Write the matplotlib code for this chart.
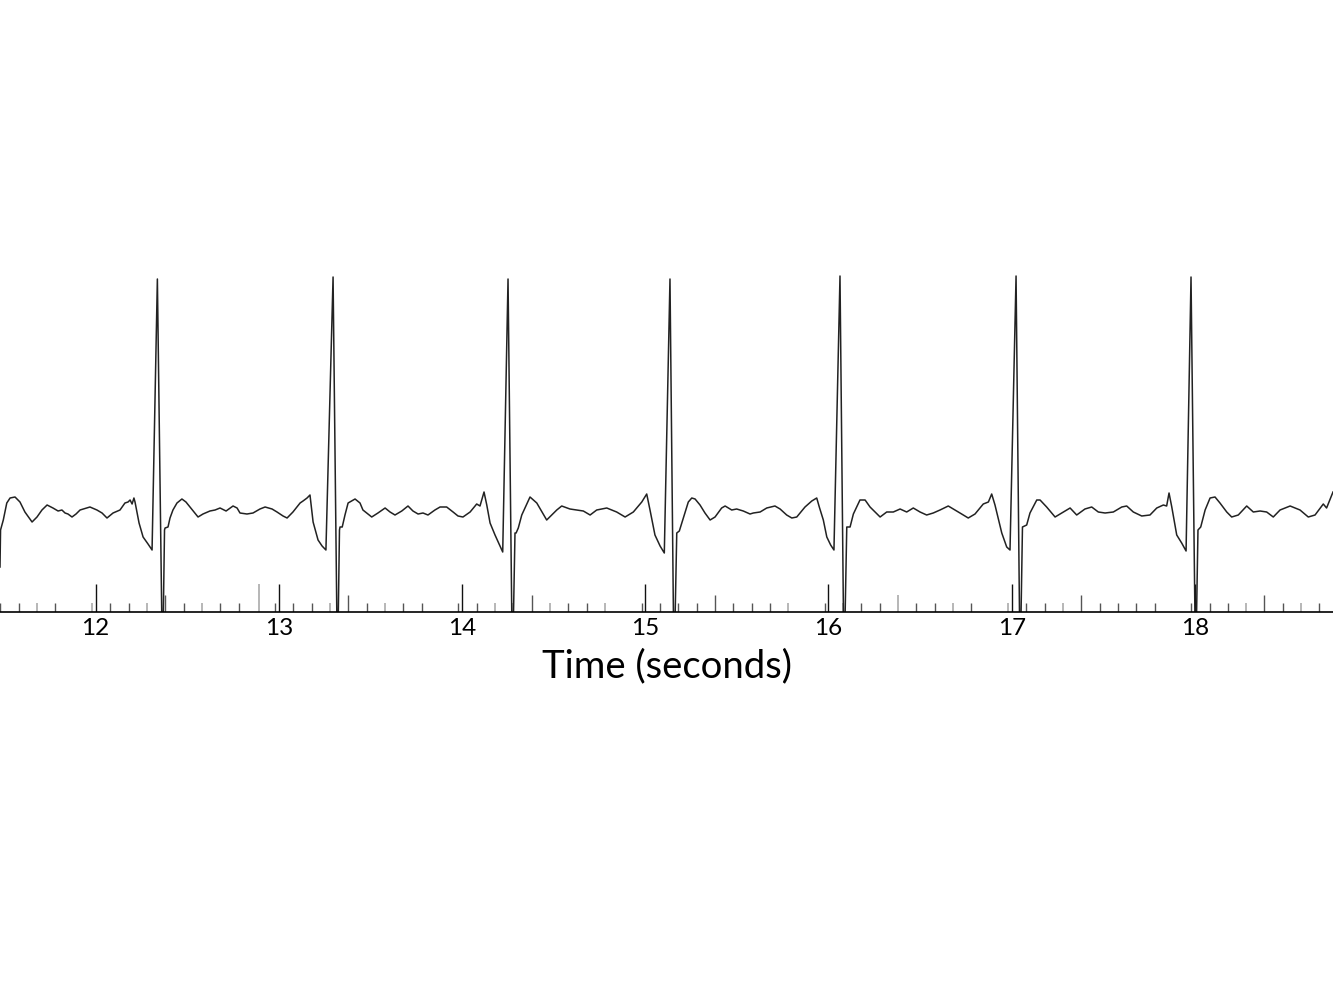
import matplotlib
matplotlib.use("Agg")
from matplotlib import pyplot as plt

# ECG trace (time in s, amplitude in mV)
ecg_t = [11.478, 11.481, 11.496, 11.515, 11.533, 11.560, 11.587, 11.614, 11.653, 11.680,
         11.707, 11.735, 11.767, 11.795, 11.816, 11.833, 11.849, 11.871, 11.893, 11.915,
         11.969, 12.007, 12.035, 12.062, 12.095, 12.133, 12.160, 12.177, 12.188, 12.199,
         12.209, 12.215, 12.237, 12.259, 12.286, 12.308, 12.337, 12.365, 12.376, 12.379,
         12.395, 12.406, 12.422, 12.444, 12.471, 12.493, 12.515, 12.542, 12.559, 12.586,
         12.624, 12.652, 12.679, 12.712, 12.750, 12.772, 12.788, 12.826, 12.859, 12.897,
         12.925, 12.963, 12.990, 13.023, 13.045, 13.077, 13.116, 13.132, 13.154, 13.170,
         13.187, 13.214, 13.236, 13.257, 13.296, 13.320, 13.331, 13.334, 13.346, 13.361,
         13.378, 13.416, 13.443, 13.459, 13.507, 13.541, 13.580, 13.607, 13.634, 13.671,
         13.705, 13.732, 13.760, 13.787, 13.814, 13.852, 13.880, 13.916, 13.951, 13.978,
         14.005, 14.044, 14.080, 14.098, 14.120, 14.135, 14.153, 14.180, 14.207, 14.222,
         14.251, 14.275, 14.289, 14.295, 14.307, 14.326, 14.371, 14.408, 14.462, 14.517,
         14.544, 14.589, 14.626, 14.662, 14.680, 14.699, 14.735, 14.790, 14.844, 14.890,
         14.935, 14.981, 15.008, 15.026, 15.053, 15.081, 15.104, 15.135, 15.157, 15.172,
         15.186, 15.208, 15.235, 15.254, 15.272, 15.299, 15.326, 15.354, 15.381, 15.417,
         15.436, 15.472, 15.499, 15.535, 15.572, 15.590, 15.627, 15.663, 15.708, 15.736,
         15.772, 15.800, 15.827, 15.872, 15.909, 15.936, 15.950, 15.972, 15.991, 16.012,
         16.030, 16.063, 16.085, 16.100, 16.118, 16.136, 16.172, 16.200, 16.227, 16.282,
         16.318, 16.354, 16.391, 16.427, 16.463, 16.500, 16.536, 16.572, 16.609, 16.654,
         16.691, 16.727, 16.763, 16.800, 16.845, 16.873, 16.891, 16.909, 16.946, 16.973,
         16.991, 17.024, 17.046, 17.059, 17.082, 17.100, 17.137, 17.155, 17.191, 17.237,
         17.273, 17.319, 17.355, 17.400, 17.437, 17.473, 17.510, 17.555, 17.601, 17.628,
         17.664, 17.710, 17.755, 17.792, 17.828, 17.846, 17.859, 17.874, 17.901, 17.928,
         17.952, 17.979, 18.004, 18.017, 18.032, 18.056, 18.083, 18.110, 18.137, 18.174,
         18.201, 18.237, 18.283, 18.319, 18.356, 18.392, 18.428, 18.465, 18.520, 18.574,
         18.619, 18.656, 18.701, 18.719, 18.747, 18.754]
ecg_mv = [-0.55, -0.18, -0.08, 0.09, 0.14, 0.15, 0.10, 0.00, -0.10, -0.05,
          0.02, 0.07, 0.04, 0.01, 0.02, -0.01, -0.02, -0.05, -0.02, 0.02,
          0.05, 0.02, -0.01, -0.06, -0.01, 0.02, 0.09, 0.10, 0.12, 0.08,
          0.14, 0.10, -0.11, -0.25, -0.32, -0.38, 2.33, -1.60, -0.18, -0.16,
          -0.15, -0.06, 0.02, 0.09, 0.13, 0.10, 0.05, -0.01, -0.05, -0.02,
          0.01, 0.02, 0.04, 0.01, 0.06, 0.04, -0.01, -0.02, -0.01, 0.03,
          0.05, 0.03, 0.00, -0.04, -0.06, 0.00, 0.09, 0.11, 0.14, 0.17,
          -0.10, -0.28, -0.34, -0.38, 2.35, -1.60, -0.18, -0.15, -0.15, -0.03,
          0.09, 0.13, 0.09, 0.02, -0.05, -0.01, 0.04, 0.00, -0.03, 0.01,
          0.06, 0.01, -0.02, -0.01, -0.03, 0.02, 0.05, 0.05, 0.00, -0.04,
          -0.05, 0.00, 0.08, 0.06, 0.20, 0.07, -0.11, -0.23, -0.34, -0.40,
          2.33, -1.60, -0.21, -0.21, -0.16, -0.03, 0.15, 0.09, -0.08, 0.02,
          0.06, 0.03, 0.02, 0.01, -0.01, -0.03, 0.02, 0.04, 0.00, -0.05,
          0.00, 0.10, 0.18, 0.02, -0.23, -0.34, -0.41, 2.33, -1.60, -0.21,
          -0.19, -0.06, 0.10, 0.14, 0.13, 0.07, -0.01, -0.08, -0.05, 0.04,
          0.06, 0.02, 0.03, 0.01, -0.02, -0.01, 0.00, 0.04, 0.06, 0.03,
          -0.03, -0.06, -0.05, 0.05, 0.11, 0.14, 0.05, -0.08, -0.25, -0.33,
          -0.38, 2.36, -1.60, -0.15, -0.15, -0.02, 0.12, 0.12, 0.05, -0.05,
          0.00, 0.00, 0.03, 0.00, 0.04, 0.00, -0.03, -0.01, 0.02, 0.06,
          0.02, -0.02, -0.06, -0.02, 0.08, 0.10, 0.18, 0.07, -0.21, -0.35,
          -0.38, 2.36, -1.60, -0.15, -0.13, -0.01, 0.12, 0.12, 0.05, -0.05,
          -0.01, 0.04, -0.03, 0.03, 0.05, 0.00, -0.01, 0.00, 0.05, 0.06,
          0.00, -0.04, -0.03, 0.04, 0.07, 0.06, 0.19, 0.05, -0.23, -0.31,
          -0.39, 2.35, -1.60, -0.18, -0.15, 0.02, 0.14, 0.15, 0.09, 0.00,
          -0.05, -0.03, 0.06, 0.00, 0.01, 0.00, -0.05, 0.02, 0.06, 0.02,
          -0.05, -0.03, 0.08, 0.04, 0.17, 0.20]

# event marks along the time axis
short_dark = [11.48, 11.58, 11.78, 12.08, 12.18, 12.48, 12.68, 12.78, 12.98, 13.08,
              13.18, 13.48, 13.68, 13.78, 13.98, 14.08, 14.58, 14.68, 14.98, 15.08,
              15.18, 15.28, 15.48, 15.58, 15.68, 15.98, 16.18, 16.28, 16.48, 16.58,
              16.78, 17.08, 17.18, 17.48, 17.58, 17.68, 17.78, 17.98, 18.08, 18.18,
              18.48, 18.68]
short_light = [11.68, 11.98, 12.28, 12.58, 13.28, 13.58, 14.18, 14.28, 14.48, 14.78,
               15.78, 16.08, 16.68, 16.98, 17.28, 18.28, 18.58]
mid_dark = [12.38, 13.38, 14.38, 15.38, 17.38, 18.38]
mid_light = [16.38]
tall_dark = [12, 13, 14, 15, 16, 17, 18]
tall_light = [12.89]

xticks = [12, 13, 14, 15, 16, 17, 18]

fig = plt.figure(figsize=(13.33, 10), dpi=100)
ax = fig.add_axes([0, 0.388, 1, 0.362])

base = -1.0
ax.vlines(short_dark, base, base + 0.09, color='#555555', lw=1.0)
ax.vlines(short_light, base, base + 0.09, color='#aaaaaa', lw=1.2)
ax.vlines(mid_dark, base, base + 0.17, color='#555555', lw=1.0)
ax.vlines(mid_light, base, base + 0.17, color='#aaaaaa', lw=1.2)
ax.vlines(tall_dark, base, base + 0.28, color='#111111', lw=1.0)
ax.vlines(tall_light, base, base + 0.28, color='#aaaaaa', lw=1.2)

ax.plot(ecg_t, ecg_mv, color='#222222', lw=1.1)

ax.set_xlim(11.478, 18.754)
ax.set_ylim(base, 2.62)
for s in ['top', 'right', 'left']:
    ax.spines[s].set_visible(False)
ax.spines['bottom'].set_linewidth(1.2)
ax.set_yticks([])
ax.set_xticks(xticks)
ax.set_xticklabels([str(v) for v in xticks], fontsize=17.5, family='Lato')
ax.tick_params(axis='x', length=0, pad=4)
ax.set_xlabel('Time (seconds)', fontsize=27.5, family='Lato', labelpad=7)

fig.savefig('out.png', dpi=100)
